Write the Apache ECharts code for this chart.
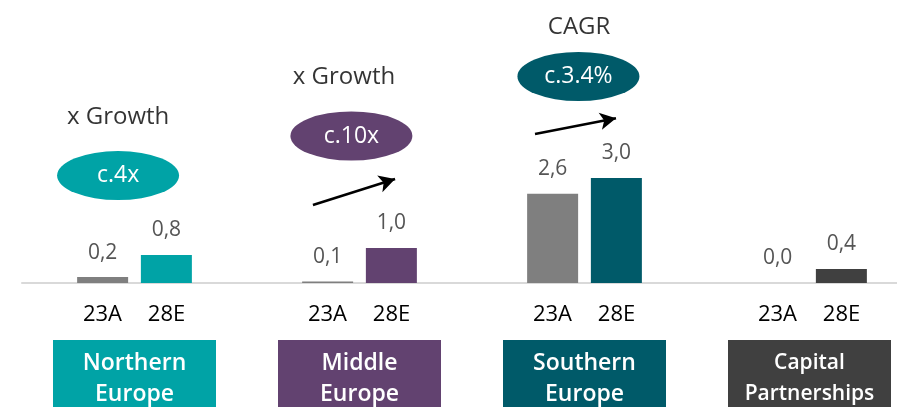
<!DOCTYPE html>
<html>
<head>
<meta charset="utf-8">
<script src="https://cdn.jsdelivr.net/npm/echarts@6/dist/echarts.min.js"></script>
<style>
  html, body { margin: 0; padding: 0; background: #fff; }
  #chart { width: 897px; height: 407px; }
</style>
</head>
<body>
<div id="chart"></div>
<script>
// categories
var regions = ['Northern\nEurope', 'Middle\nEurope', 'Southern\nEurope', 'Capital\nPartnerships']
var regionColors = ['#00A3A6', '#624270', '#005A69', '#404040']
var periods = ['23A', '28E']

// values (EUR bn)
var values23A = [0.17, 0.04, 2.55, 0.0]
var values28E = [0.8, 1.0, 3.0, 0.4]
var labels23A = ['0,2', '0,1', '2,6', '0,0']
var labels28E = ['0,8', '1,0', '3,0', '0,4']

// annotations, in data units (x: 0..4 across the four groups)
var noteTexts = [
  [0.427, 4.74, 'x Growth'],
  [1.431, 5.89, 'x Growth'],
  [2.476, 7.31, 'CAGR']
]
var bubbles = [
  [0.427, 3.07, 'c.4x', '#00A3A6'],
  [1.464, 4.2, 'c.10x', '#624270'],
  [2.473, 5.9, 'c.3.4%', '#005A69']
]
var arrows = [
  [[1.293, 2.23], [1.658, 2.97]],
  [[2.28, 4.26], [2.64, 4.71]]
]

var font = 'Open Sans'
var myChart = echarts.init(document.getElementById('chart'))

var option = {
  animation: false,
  textStyle: { fontFamily: font },
  grid: { left: 22, right: -25, top: 3, bottom: 124, outerBoundsMode: 'none', containLabel: false },
  xAxis: [
    {
      type: 'category',
      data: regions,
      axisLine: { show: true, lineStyle: { color: '#d9d9d9', width: 2 } },
      axisTick: { show: false },
      axisLabel: {
        interval: 0,
        margin: 21,
        formatter: function () {
          return '{p|' + periods[0] + '}{p|' + periods[1] + '}'
        },
        rich: {
          p: { width: 64, align: 'center', fontSize: 22, color: '#000', fontFamily: font }
        }
      }
    },
    {
      type: 'category',
      position: 'bottom',
      data: regions.map(function (r, i) {
        return {
          value: r,
          textStyle: { backgroundColor: regionColors[i], fontSize: i === 3 ? 21 : 23 }
        }
      }),
      axisLine: { show: false },
      axisTick: { show: false },
      axisLabel: {
        interval: 0,
        hideOverlap: false,
        margin: 57,
        color: '#fff',
        fontWeight: 600,
        fontSize: 23,
        lineHeight: 31,
        width: 163,
        align: 'center',
        padding: [8, 0, 10, 0]
      }
    },
    { type: 'value', min: 0, max: 4, show: false }
  ],
  yAxis: { type: 'value', min: 0, max: 8, show: false },
  series: [
    {
      name: periods[0],
      type: 'bar',
      xAxisIndex: 0,
      barWidth: 51,
      barGap: '25%',
      data: values23A,
      itemStyle: { color: '#7F7F7F' },
      label: {
        show: true,
        position: 'top',
        distance: 14,
        fontSize: 21,
        color: '#555',
        formatter: function (p) { return labels23A[p.dataIndex] }
      }
    },
    {
      name: periods[1],
      type: 'bar',
      xAxisIndex: 0,
      barWidth: 51,
      data: values28E.map(function (v, i) {
        return { value: v, itemStyle: { color: regionColors[i] } }
      }),
      label: {
        show: true,
        position: 'top',
        distance: 14,
        fontSize: 21,
        color: '#555',
        formatter: function (p) { return labels28E[p.dataIndex] }
      }
    },
    {
      type: 'scatter',
      xAxisIndex: 2,
      symbol: 'circle',
      symbolSize: [122, 49],
      silent: true,
      data: bubbles.map(function (b) {
        return { value: [b[0], b[1]], name: b[2], itemStyle: { color: b[3], opacity: 1 } }
      }),
      label: {
        show: true,
        position: 'inside',
        color: '#fff',
        fontSize: 23,
        formatter: '{b}'
      },
      markLine: {
        silent: true,
        symbol: ['none', 'arrow'],
        symbolSize: [13, 16],
        label: { show: false },
        lineStyle: { color: '#000', width: 2.5, type: 'solid' },
        data: arrows.map(function (a) {
          return [{ coord: a[0] }, { coord: a[1] }]
        })
      }
    },
    {
      type: 'scatter',
      xAxisIndex: 2,
      symbolSize: 0,
      silent: true,
      data: noteTexts.map(function (t) {
        return { value: [t[0], t[1]], name: t[2] }
      }),
      label: {
        show: true,
        position: 'inside',
        color: '#000',
        fontSize: 24,
        formatter: '{b}'
      }
    }
  ]
}

myChart.setOption(option)
</script>
</body>
</html>
